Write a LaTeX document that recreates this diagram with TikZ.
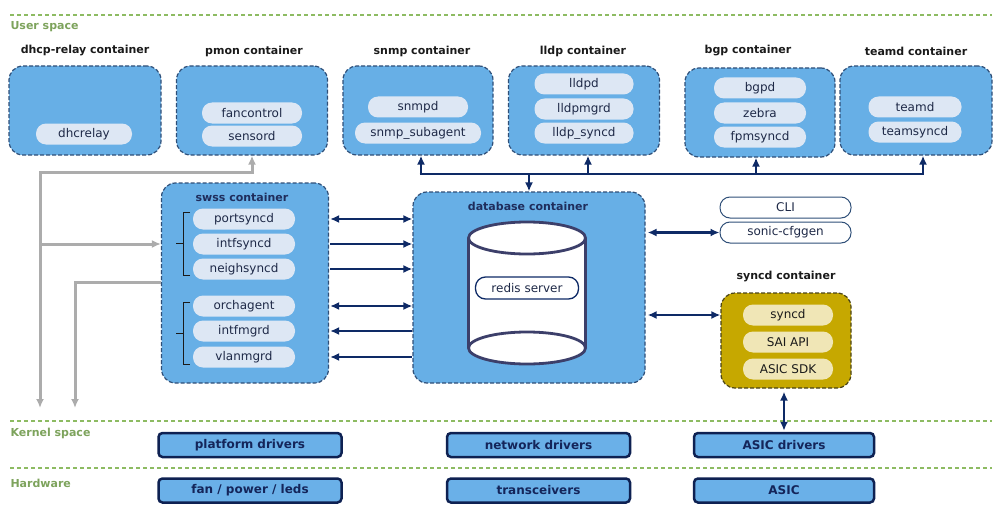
\documentclass[tikz,border=0pt]{standalone}
\usepackage{fontspec}
\setmainfont{DejaVu Sans}
\usetikzlibrary{arrows.meta}
\definecolor{boxblue}{HTML}{67AFE6}
\definecolor{edgeblue}{HTML}{2F4F78}
\definecolor{pillblue}{HTML}{DDE7F4}
\definecolor{textnavy}{HTML}{1E2947}
\definecolor{titleblack}{HTML}{1A1A1A}
\definecolor{titlenavy}{HTML}{1F2D5C}
\definecolor{linknavy}{HTML}{0E2A66}
\definecolor{linegray}{HTML}{ACACAC}
\definecolor{layergreen}{HTML}{7DA35C}
\definecolor{layerdash}{HTML}{8DBB62}
\definecolor{cylgray}{HTML}{3C3F6A}
\definecolor{syncgold}{HTML}{C6A800}
\definecolor{syncedge}{HTML}{4A4418}
\definecolor{syncpill}{HTML}{F0E6B6}
\definecolor{drvedge}{HTML}{0E2152}
\definecolor{drvfill}{HTML}{6AB0E8}
\definecolor{drvtext}{HTML}{14255A}
\begin{document}
\begin{tikzpicture}[x=1pt, y=-1pt,
    container/.style={draw=edgeblue, fill=boxblue, line width=1.2pt, dash pattern=on 4pt off 2pt, rounded corners=14pt, inner sep=0pt},
    pill/.style={fill=pillblue, text=textnavy, rounded corners=10pt, minimum height=21pt, inner sep=0pt, font=\fontsize{12}{14}\selectfont},
    toolpill/.style={pill, fill=white, draw=edgeblue, line width=1pt},
    syncpillstyle/.style={pill, fill=syncpill, text=titleblack},
    title/.style={font=\bfseries\fontsize{11}{13}\selectfont, text=titleblack},
    drvbox/.style={draw=drvedge, fill=drvfill, line width=2.5pt, rounded corners=4pt, minimum height=24pt, inner sep=0pt, text=drvtext, font=\bfseries\fontsize{12}{14}\selectfont},
    layerlabel/.style={anchor=west, text=layergreen, font=\bfseries\fontsize{11}{13}\selectfont},
    layerline/.style={draw=layerdash, line width=1.1pt, dash pattern=on 4pt off 3pt},
    link/.style={draw=linknavy, line width=2.6pt},
    grayline/.style={draw=linegray, line width=3pt},
    bracket/.style={draw=titleblack, line width=1pt},
    >={Latex[length=9pt,width=8pt]}
]
    \useasboundingbox (0,0) rectangle (1000,524);
    % Layers
    \draw[layerline] (10,15) -- (992,15);
    \draw[layerline] (10,421) -- (992,421);
    \draw[layerline] (10,468) -- (992,468);
    \node[layerlabel] (userlbl) at (7,27) {User space};
    \node[layerlabel] (kernlbl) at (7,433) {Kernel space};
    \node[layerlabel] (hwlbl) at (7,483) {Hardware};
    % Top row of containers
    \node[title] at (85,51) {dhcp-relay container};
    \node[title] at (254,51) {pmon container};
    \node[title] at (422,51) {snmp container};
    \node[title] at (583,51) {lldp container};
    \node[title] at (748,51) {bgp container};
    \node[title] at (916,51) {teamd container};
    \node[container, minimum width=152pt, minimum height=89pt] (dhcp) at (85,110.5) {};
    \node[container, minimum width=151pt, minimum height=89pt] (pmon) at (252,110.5) {};
    \node[container, minimum width=150pt, minimum height=89pt] (snmp) at (418,110.5) {};
    \node[container, minimum width=151pt, minimum height=89pt] (lldp) at (584,110.5) {};
    \node[container, minimum width=150pt, minimum height=89pt] (bgp) at (760,112.5) {};
    \node[container, minimum width=152pt, minimum height=89pt] (teamd) at (916,110.5) {};
    \node[pill, minimum width=96pt] (dhcrelay) at (84,134) {dhcrelay};
    \node[pill, minimum width=100pt] (fancontrol) at (252,113) {fancontrol};
    \node[pill, minimum width=100pt] (sensord) at (252,136) {sensord};
    \node[pill, minimum width=100pt] (snmpd) at (418,107) {snmpd};
    \node[pill, minimum width=126pt] (subagent) at (418,133) {snmp\_subagent};
    \node[pill, minimum width=99pt] (lldpd) at (584,84) {lldpd};
    \node[pill, minimum width=99pt] (lldpmgrd) at (584,109) {lldpmgrd};
    \node[pill, minimum width=99pt] (lldpsyncd) at (584,133) {lldp\_syncd};
    \node[pill, minimum width=92pt] (bgpd) at (760,88) {bgpd};
    \node[pill, minimum width=92pt] (zebra) at (760,113) {zebra};
    \node[pill, minimum width=92pt] (fpmsyncd) at (760,137) {fpmsyncd};
    \node[pill, minimum width=93pt] (teamdp) at (915,107) {teamd};
    \node[pill, minimum width=93pt] (teamsyncd) at (915,132) {teamsyncd};
    % swss container
    \node[container, minimum width=167pt, minimum height=200pt] (swss) at (245,283) {};
    \node[title, text=titlenavy] at (242,197) {swss container};
    \foreach \nm/\yy in {portsyncd/219, intfsyncd/244, neighsyncd/269, orchagent/306, intfmgrd/331, vlanmgrd/357}
        \node[pill, minimum width=102pt] (\nm) at (244,\yy) {\nm};
    \draw[bracket] (190,212) -- (183,212) -- (183,275) -- (190,275);
    \draw[bracket] (183,243) -- (176,243);
    \draw[bracket] (190,302) -- (183,302) -- (183,364) -- (190,364);
    \draw[bracket] (183,333) -- (176,333);
    % database container with redis cylinder
    \node[container, minimum width=232pt, minimum height=191pt] (db) at (529,287.5) {};
    \node[title, text=titlenavy] at (528,206) {database container};
    \fill[white] (468.5,238) rectangle (585.5,348);
    \draw[cylgray, line width=2.8pt, fill=white] (527,348) ellipse [x radius=58.5, y radius=16];
    \draw[cylgray, line width=2.8pt] (468.5,238) -- (468.5,348);
    \draw[cylgray, line width=2.8pt] (585.5,238) -- (585.5,348);
    \draw[cylgray, line width=2.8pt, fill=white] (527,238) ellipse [x radius=58.5, y radius=16];
    \node[toolpill, draw=linknavy, line width=1.3pt, minimum width=103pt, minimum height=22pt] (redis) at (527,288) {redis server};
    % tools and syncd container
    \node[toolpill, minimum width=131pt] (cli) at (785.5,207.5) {CLI};
    \node[toolpill, minimum width=131pt] (sonic) at (785.5,232.5) {sonic-cfggen};
    \node[title] at (786,277) {syncd container};
    \node[container, fill=syncgold, draw=syncedge, minimum width=130pt, minimum height=95pt] (syncdbox) at (786,340.5) {};
    \node[syncpillstyle, minimum width=90pt] (syncdp) at (788,315) {syncd};
    \node[syncpillstyle, minimum width=90pt] (saiapi) at (788,342) {SAI API};
    \node[syncpillstyle, minimum width=90pt] (asicsdk) at (788,369) {ASIC SDK};
    % Kernel and hardware boxes
    \node[drvbox, minimum width=183pt] (platdrv) at (250,445) {platform drivers};
    \node[drvbox, minimum width=183pt] (netdrv) at (538.5,445) {network drivers};
    \node[drvbox, minimum width=180pt] (asicdrv) at (784,445) {ASIC drivers};
    \node[drvbox, minimum width=183pt] (fanhw) at (250,490.5) {fan / power / leds};
    \node[drvbox, minimum width=183pt] (transhw) at (538.5,490.5) {transceivers};
    \node[drvbox, minimum width=180pt] (asichw) at (784,490.5) {ASIC};
    % Bus from database to the top containers
    \coordinate (busL) at (421,174);
    \coordinate (busR) at (923,174);
    \draw[link] ([xshift=-1.3pt]busL) -- ([xshift=1.3pt]busR);
    \draw[link,->] (busL) -- (busL |- snmp.south);
    \draw[link,->] ([xshift=4pt]lldp.south |- busL) -- ([xshift=4pt]lldp.south);
    \draw[link,->] ([xshift=-4pt]bgp.south |- busL) -- ([xshift=-4pt]bgp.south);
    \draw[link,->] (busR) -- (busR |- teamd.south);
    \draw[link,->] (db.north |- busL) -- (db.north);
    % swss <-> database
    \draw[link,<->] ([xshift=1pt]swss.east |- portsyncd) -- (db.west |- portsyncd);
    \draw[link,->] ([xshift=1pt]swss.east |- intfsyncd) -- (db.west |- intfsyncd);
    \draw[link,->] ([xshift=1pt]swss.east |- neighsyncd) -- (db.west |- neighsyncd);
    \draw[link,<->] ([xshift=1pt]swss.east |- orchagent) -- (db.west |- orchagent);
    \draw[link,<-] ([xshift=1pt]swss.east |- intfmgrd) -- (db.west |- intfmgrd);
    \draw[link,<-] ([xshift=1pt]swss.east |- vlanmgrd) -- (db.west |- vlanmgrd);
    % database <-> tools, syncd, ASIC drivers
    \draw[link,<->] ([xshift=2pt]db.east |- sonic) -- (sonic.west);
    \draw[link,<->] ([xshift=2pt]db.east |- syncdp) -- (syncdbox.west |- syncdp);
    \draw[link,<->] ([yshift=-3pt]asicdrv.north |- syncdbox.south) -- ([yshift=1pt]asicdrv.north);
    % Gray links to the kernel
    \coordinate (grayA) at (40,408);
    \coordinate (grayTurn) at (40,172);
    \coordinate (grayB) at (75,408);
    \coordinate (grayBtop) at (75,282);
    \draw[grayline,<->] (grayA) -- (grayTurn) -| (pmon.south);
    \draw[grayline,->] (grayA |- intfsyncd) -- (swss.west |- intfsyncd);
    \draw[grayline,->] (swss.west |- grayBtop) -- (grayBtop) -- (grayB);
\end{tikzpicture}
\end{document}
